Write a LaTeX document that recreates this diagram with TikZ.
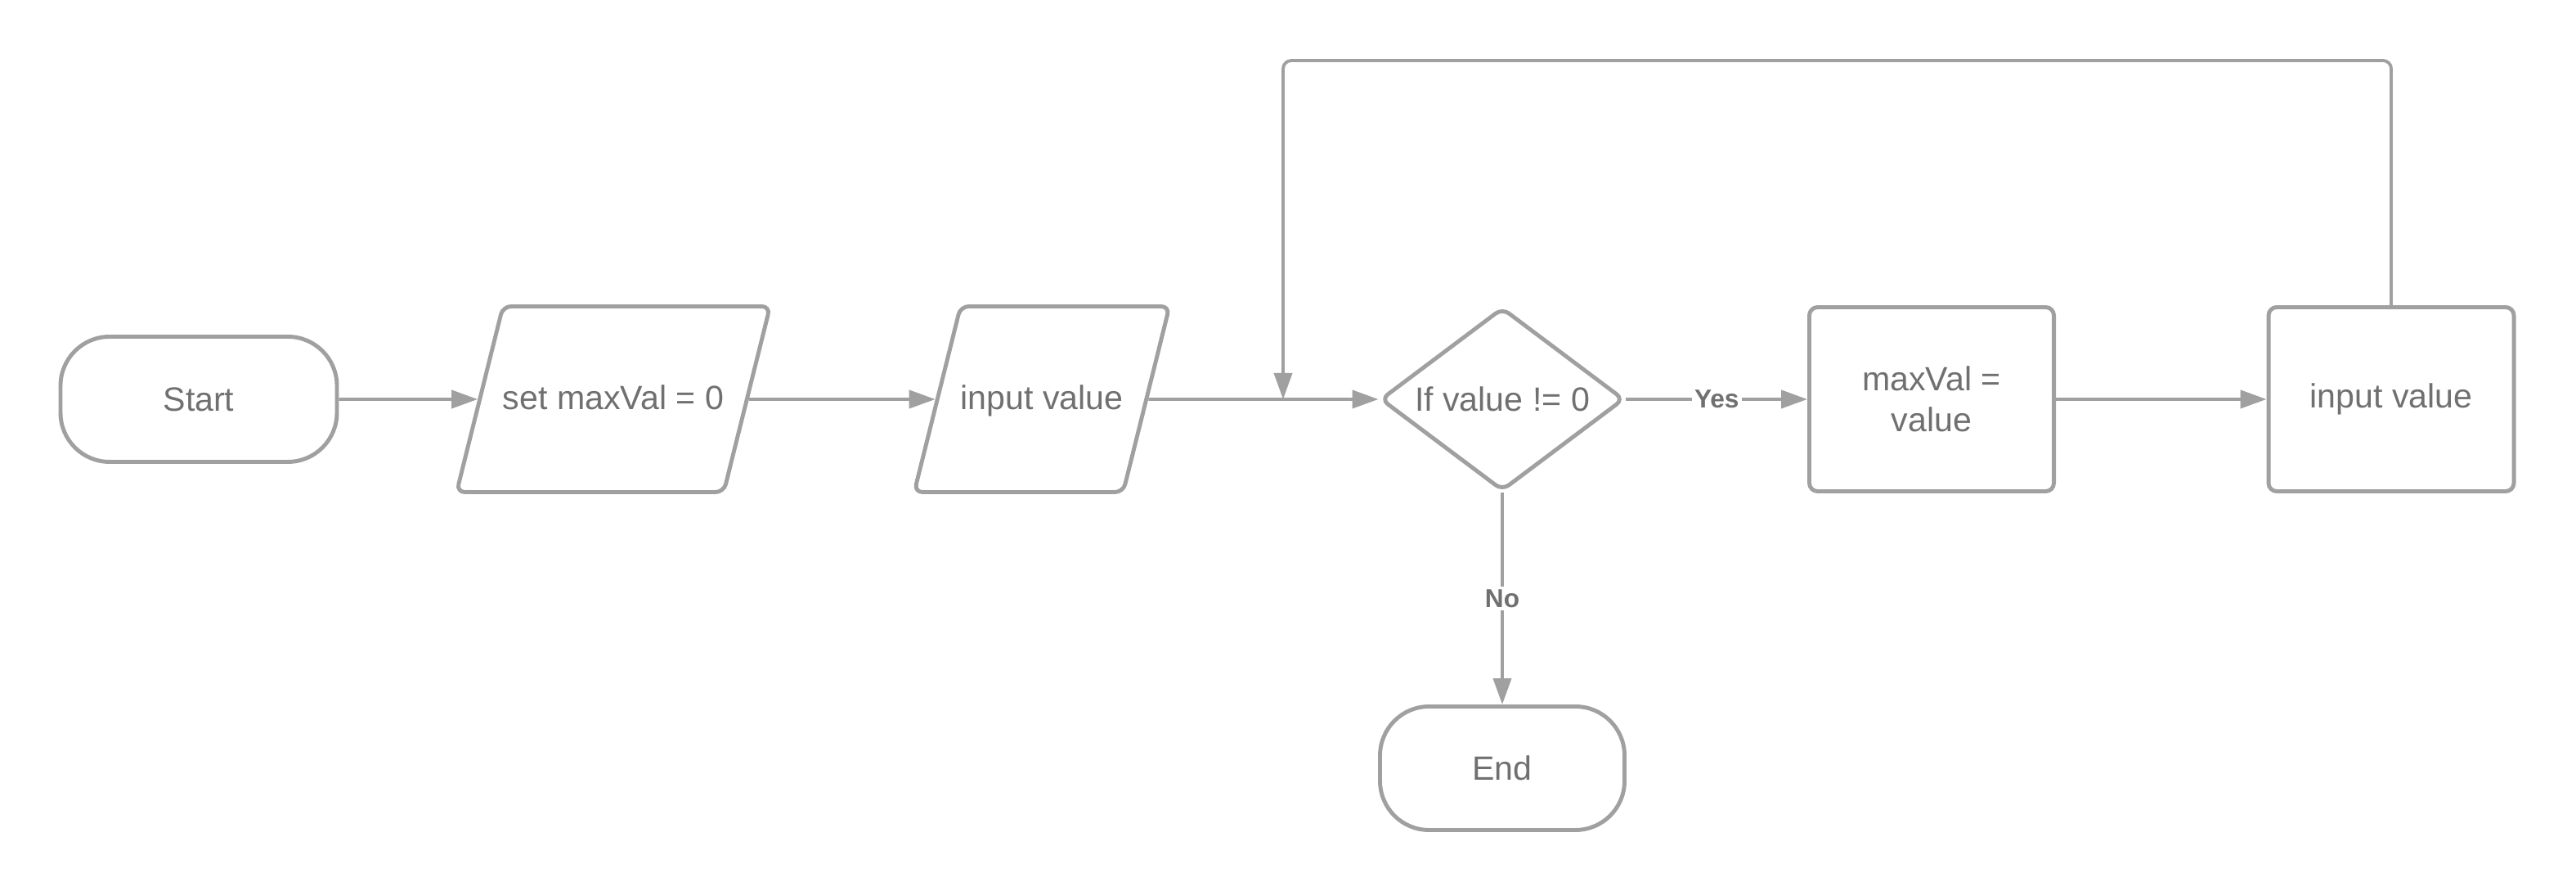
\documentclass[tikz,border=0pt]{standalone}
\usepackage{fontspec}
\setmainfont{Liberation Sans}
\usetikzlibrary{shapes.geometric, arrows.meta, positioning}
\definecolor{linegray}{RGB}{160, 160, 160}
\definecolor{textgray}{RGB}{112, 112, 112}

\begin{document}
\begin{tikzpicture}[
  base/.style={draw=linegray, line width=1.4pt, fill=white, text=textgray, align=center, inner sep=0pt, font=\fontsize{11.7}{14.2}\selectfont},
  terminal/.style={base, rectangle, rounded corners=0.6cm},
  io/.style={base, trapezium, trapezium left angle=76, trapezium right angle=104, trapezium stretches=true, text height=0.32cm, text depth=0.06cm, inner ysep=0.945cm, rounded corners=0.1cm},
  decision/.style={base, diamond, aspect=1.34, rounded corners=0.1cm},
  process/.style={base, rectangle, rounded corners=0.1cm},
  flow/.style={draw=linegray, line width=1.1pt, -{Triangle[length=0.32cm, width=0.22cm]}},
  flowlabel/.style={fill=white, inner sep=1pt, text=textgray, font=\fontsize{9}{11}\selectfont\bfseries}
]
  \useasboundingbox (0, 0) rectangle (31.5, 10.89);

  % Main row
  \node[terminal, minimum width=3.38cm, minimum height=1.53cm] (start) at (2.43, 6.01) {Start};
  \node[io, minimum width=3.72cm, minimum height=2.27cm] (setmax) at (7.50, 6.01) {set maxVal = 0};
  \node[io, minimum width=2.97cm, minimum height=2.27cm] (input1) at (12.74, 6.01) {input value};
  \node[decision, minimum width=2.98cm, minimum height=2.24cm] (check) at (18.37, 6.01) {If value != 0};
  \node[process, minimum width=2.99cm, minimum height=2.25cm] (update) at (23.62, 6.01) {maxVal =\\value};
  \node[process, minimum width=3.00cm, minimum height=2.25cm] (input2) at (29.24, 6.01) {input value};

  % Exit
  \node[terminal, minimum width=2.99cm, minimum height=1.51cm] (stop) at (18.37, 1.50) {End};

  % Arrows
  \coordinate (loopin) at (15.69, 6.01);
  \draw[flow] (start) -- (setmax);
  \draw[flow] (setmax) -- (input1);
  \draw[flow] (input1) -- (check);
  \draw[flow] (check) -- node[flowlabel] {Yes} (update);
  \draw[flow] (update) -- (input2);
  \draw[flow] (check) -- node[flowlabel] {No} (stop);

  % Loop back
  \draw[flow, rounded corners=0.1cm] (input2.north) -- ++(0, 2.99) -| (loopin);
\end{tikzpicture}
\end{document}
